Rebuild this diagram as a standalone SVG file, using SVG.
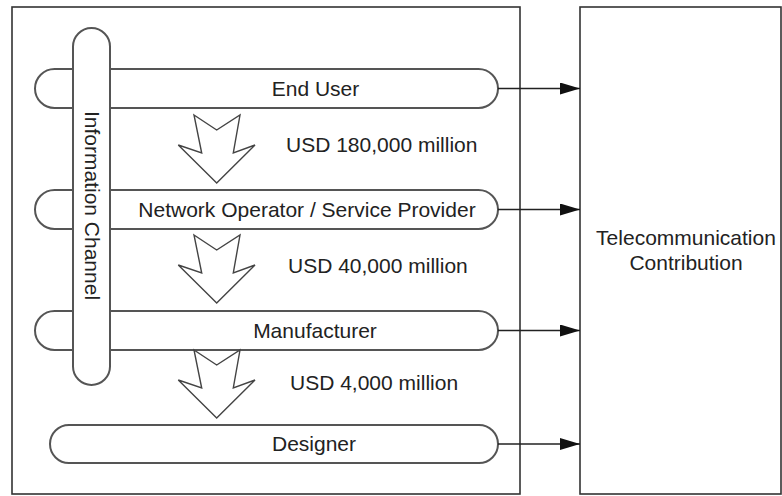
<svg xmlns="http://www.w3.org/2000/svg" width="782" height="496" viewBox="0 0 782 496">
<style>
.box{fill:#fff;stroke:#333;stroke-width:1.6}
.pill{fill:#fff;stroke:#555;stroke-width:2}
.blk{fill:#fff;stroke:#444;stroke-width:1.4;stroke-linejoin:miter}
.t{font-family:"Liberation Sans",Arial,sans-serif;font-size:21px;fill:#222}
.c{text-anchor:middle}
.conn{stroke:#222;stroke-width:1.6;fill:none}
</style>
<defs>
<marker id="ah" markerUnits="userSpaceOnUse" markerWidth="22" markerHeight="14" refX="20" refY="6" orient="auto">
<path d="M0,0 L20,6 L0,12 z" fill="#111"/>
</marker>
<path id="blockArrow" d="M194,0 L216.7,15 L240,0 L233.3,38 L255,30 L216.7,68 L178.3,30 L201.7,38 z"/>
</defs>
<rect width="782" height="496" fill="#fff"/>
<g id="outer-box"><rect class="box" x="12" y="7" width="508" height="487"/></g>
<g id="contribution">
<rect class="box" x="580" y="7" width="201" height="487"/>
<text class="t c" x="686" y="245">Telecommunication</text>
<text class="t c" x="686" y="270">Contribution</text>
</g>
<g id="end-user"><rect class="pill" x="35" y="69" width="463" height="39" rx="19.5"/><text class="t c" x="315.5" y="95.5">End User</text></g>
<g id="network-operator"><rect class="pill" x="35" y="190" width="463" height="39" rx="19.5"/><text class="t c" x="307" y="216.5">Network Operator / Service Provider</text></g>
<g id="manufacturer"><rect class="pill" x="35" y="311" width="463" height="39" rx="19.5"/><text class="t c" x="315" y="337.5">Manufacturer</text></g>
<g id="designer"><rect class="pill" x="50" y="425" width="448" height="38" rx="19"/><text class="t c" x="314" y="451">Designer</text></g>
<g id="information-channel"><rect class="pill" x="73" y="28" width="37" height="357" rx="18.5"/><text class="t c" transform="translate(91.5,205.5) rotate(90)" x="0" y="7">Information Channel</text></g>
<g id="flow-1"><use href="#blockArrow" class="blk" transform="translate(0,115)"/><text class="t" x="286" y="152">USD 180,000 million</text></g>
<g id="flow-2"><use href="#blockArrow" class="blk" transform="translate(0,235)"/><text class="t" x="288" y="273">USD 40,000 million</text></g>
<g id="flow-3"><use href="#blockArrow" class="blk" transform="translate(0,350)"/><text class="t" x="290" y="390">USD 4,000 million</text></g>
<g id="connectors">
<line class="conn" x1="498" y1="88.5" x2="580" y2="88.5" marker-end="url(#ah)"/>
<line class="conn" x1="498" y1="209.5" x2="580" y2="209.5" marker-end="url(#ah)"/>
<line class="conn" x1="498" y1="330.5" x2="580" y2="330.5" marker-end="url(#ah)"/>
<line class="conn" x1="498" y1="444" x2="580" y2="444" marker-end="url(#ah)"/>
</g>
</svg>
